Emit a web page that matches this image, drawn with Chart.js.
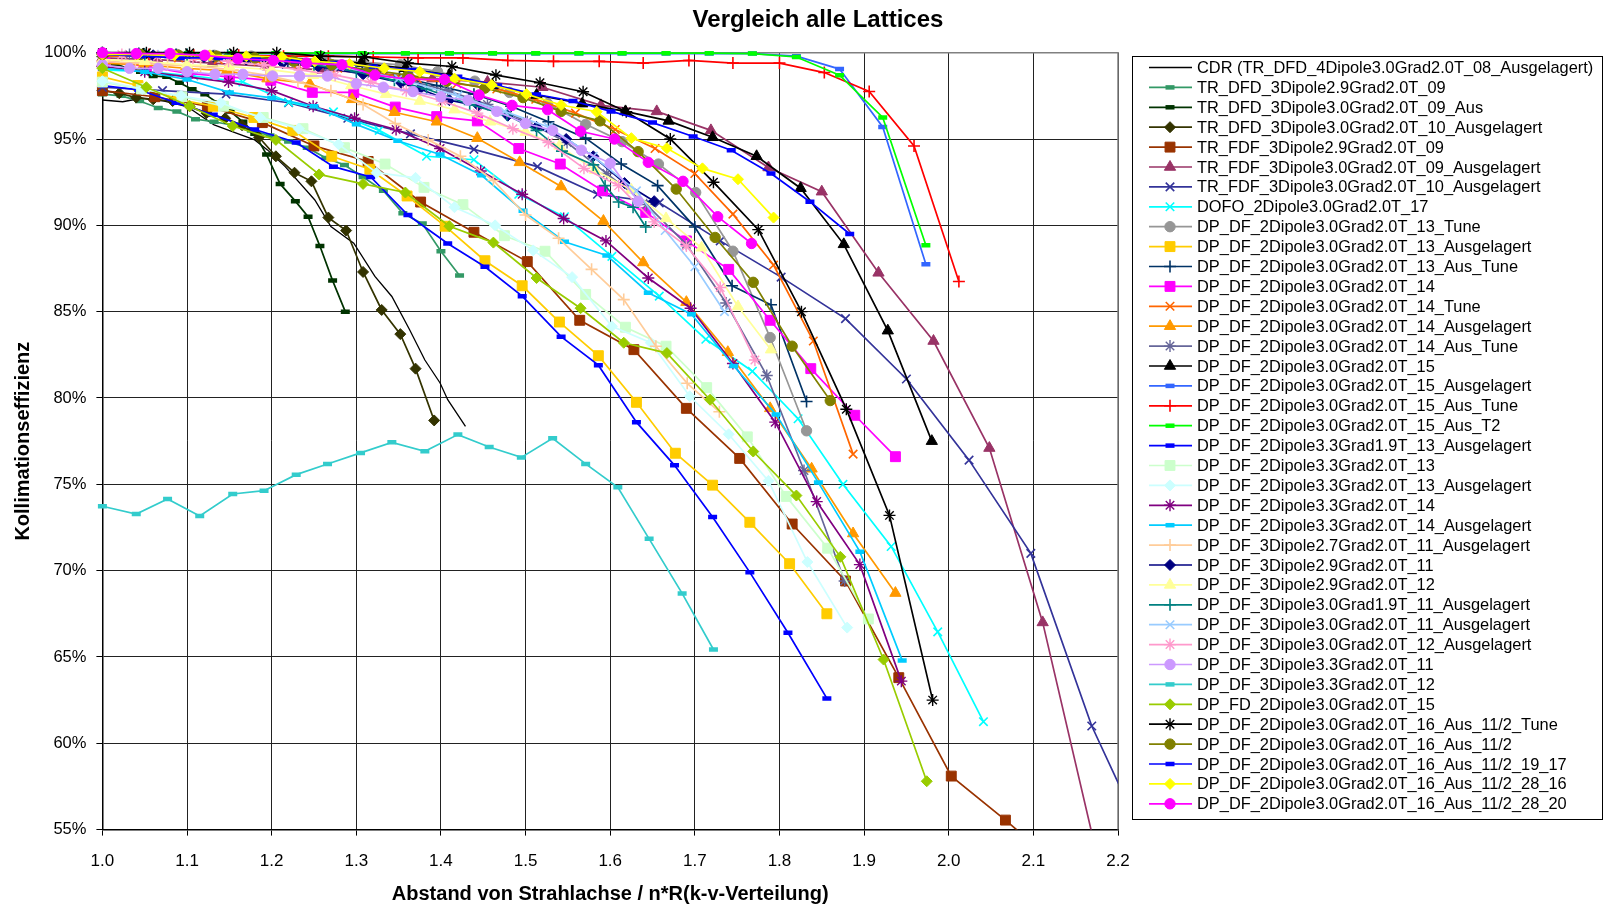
<!DOCTYPE html>
<html>
<head>
<meta charset="utf-8">
<title>Vergleich alle Lattices</title>
<script src="https://cdn.jsdelivr.net/npm/chart.js@4.4.1/dist/chart.umd.min.js"></script>
<style>
  html, body { margin: 0; padding: 0; background: #fff; }
  canvas { display: block; }
</style>
</head>
<body>
<canvas id="latticeChart" width="1606" height="906"></canvas>
<script>
// Kollimationseffizienz [%] ueber Abstand von der Strahlachse (n*R), je Lattice [x, y]
const cdr08 = [[1.0,97.26],[1.024,97.16],[1.046,97.36],[1.073,97.2],[1.1,96.88],[1.132,95.82],[1.159,95.33],[1.18,94.95],[1.195,94.37],[1.216,93.4],[1.251,91.47],[1.27,89.93],[1.297,88.97],[1.322,87.04],[1.342,85.88],[1.363,83.95],[1.381,82.2],[1.399,80.87],[1.408,79.9],[1.429,78.36]];
const trDfd29_09 = [[1.0,97.6],[1.022,97.5],[1.044,97.2],[1.066,96.8],[1.088,96.6],[1.11,96.15],[1.132,96.0],[1.154,95.8],[1.176,95.5],[1.198,95.2],[1.22,94.85],[1.242,94.5],[1.264,93.9],[1.286,93.5],[1.308,92.8],[1.332,92.0],[1.355,90.7],[1.378,90.1],[1.4,88.5],[1.422,87.1]];
const trDfd30_09aus = [[1.0,99.5],[1.015,99.35],[1.03,99.1],[1.045,98.9],[1.06,98.65],[1.076,98.6],[1.091,98.26],[1.106,97.88],[1.121,97.6],[1.136,97.1],[1.151,96.6],[1.166,96.0],[1.18,95.3],[1.194,94.1],[1.21,92.4],[1.228,91.4],[1.243,90.5],[1.257,88.8],[1.272,86.8],[1.287,85.0]];
const trDfd30_10aus = [[1.0,97.8],[1.02,97.65],[1.04,97.4],[1.06,97.3],[1.083,97.2],[1.103,96.9],[1.123,96.5],[1.145,96.2],[1.165,95.8],[1.185,95.1],[1.205,94.0],[1.227,93.05],[1.247,92.55],[1.267,90.45],[1.288,89.7],[1.308,87.3],[1.33,85.1],[1.352,83.7],[1.37,81.7],[1.392,78.7]];
const trFdf29_09 = [[1.0,97.8],[1.062,97.45],[1.124,96.9],[1.189,95.95],[1.25,94.6],[1.314,93.7],[1.376,91.35],[1.439,89.6],[1.502,87.9],[1.564,84.5],[1.628,82.8],[1.69,79.4],[1.753,76.5],[1.815,72.7],[1.878,69.4],[1.941,63.8],[2.003,58.1],[2.067,55.55],[2.13,52.9]];
const trFdf30_09aus = [[1.0,99.7],[1.065,99.6],[1.13,99.4],[1.195,99.2],[1.26,99.0],[1.325,98.8],[1.39,98.5],[1.455,98.3],[1.52,98.0],[1.589,96.95],[1.655,96.6],[1.719,95.5],[1.787,93.35],[1.85,91.95],[1.917,87.25],[1.982,83.3],[2.048,77.1],[2.111,67.0],[2.18,52.5]];
const trFdf30_10aus = [[1.0,98.0],[1.071,97.8],[1.146,97.6],[1.22,97.1],[1.29,96.2],[1.364,95.3],[1.439,94.4],[1.514,93.4],[1.585,91.8],[1.658,91.3],[1.73,89.1],[1.802,87.0],[1.878,84.6],[1.95,81.1],[2.024,76.4],[2.097,71.0],[2.169,61.0],[2.24,53.5]];
const dofo17 = [[1.0,99.0],[1.054,98.9],[1.108,98.65],[1.166,98.3],[1.22,97.13],[1.273,96.57],[1.327,95.5],[1.383,94.0],[1.439,93.8],[1.492,91.8],[1.546,90.5],[1.602,88.2],[1.658,85.9],[1.713,83.4],[1.768,81.55],[1.822,78.8],[1.875,75.0],[1.932,71.4],[1.987,66.45],[2.041,61.25]];
const dd13tune = [[1.0,99.95],[1.044,99.9],[1.088,99.9],[1.132,99.85],[1.176,99.8],[1.22,99.7],[1.264,99.6],[1.308,99.45],[1.352,99.3],[1.396,98.9],[1.44,98.35],[1.481,97.7],[1.526,97.05],[1.571,95.85],[1.614,94.85],[1.657,93.55],[1.701,91.9],[1.745,88.5],[1.789,83.5],[1.832,78.1]];
const dd13aus = [[1.0,98.6],[1.042,98.1],[1.09,97.3],[1.131,96.9],[1.179,96.25],[1.225,95.5],[1.271,94.0],[1.316,93.25],[1.36,91.7],[1.405,89.95],[1.452,87.95],[1.496,86.5],[1.54,84.4],[1.586,82.45],[1.631,79.75],[1.677,76.8],[1.721,74.95],[1.765,72.8],[1.812,70.4],[1.856,67.5]];
const dd13ausTune = [[1.0,100],[1.043,99.95],[1.087,99.9],[1.131,99.8],[1.175,99.7],[1.219,99.5],[1.263,99.3],[1.307,99.0],[1.351,98.6],[1.395,98.1],[1.439,97.6],[1.483,96.9],[1.527,96.0],[1.571,95.05],[1.613,93.55],[1.656,92.3],[1.70,89.9],[1.744,86.5],[1.79,85.4],[1.832,79.8]];
const dd14 = [[1.003,99.5],[1.052,99.2],[1.101,98.8],[1.15,98.6],[1.199,98.4],[1.248,97.7],[1.297,97.7],[1.346,96.85],[1.395,96.3],[1.443,96.05],[1.492,94.45],[1.541,93.55],[1.591,92.0],[1.642,90.75],[1.69,89.1],[1.74,87.45],[1.789,84.5],[1.837,81.7],[1.889,79.0],[1.937,76.6]];
const dd14tune = [[1.0,99.8],[1.043,99.8],[1.09,99.7],[1.137,99.6],[1.184,99.5],[1.231,99.3],[1.278,99.1],[1.325,98.8],[1.372,98.5],[1.419,98.2],[1.466,97.9],[1.512,97.3],[1.559,96.5],[1.606,95.55],[1.653,94.45],[1.7,93.0],[1.745,90.65],[1.793,87.7],[1.84,83.3],[1.887,76.75]];
const dd14aus = [[1.0,99.4],[1.049,99.3],[1.098,99.1],[1.147,98.95],[1.195,98.5],[1.245,98.2],[1.295,97.3],[1.345,96.55],[1.395,96.0],[1.443,95.05],[1.493,93.65],[1.542,92.25],[1.592,90.25],[1.639,87.85],[1.69,85.55],[1.739,82.65],[1.789,79.4],[1.838,75.9],[1.887,72.15],[1.937,68.7]];
const dd14ausTune = [[1.0,99.95],[1.032,99.9],[1.079,99.9],[1.126,99.8],[1.173,99.7],[1.22,99.5],[1.267,99.2],[1.314,98.9],[1.361,98.4],[1.408,97.8],[1.455,97.0],[1.502,96.0],[1.549,94.8],[1.596,93.0],[1.643,91.2],[1.69,88.9],[1.737,85.5],[1.785,81.3],[1.829,75.8],[1.877,69.4]];
const dd15 = [[1.0,99.95],[1.049,99.9],[1.1,99.85],[1.152,99.8],[1.203,99.7],[1.255,99.55],[1.306,99.4],[1.358,99.1],[1.41,98.7],[1.461,98.1],[1.513,97.55],[1.567,97.05],[1.618,96.6],[1.669,96.05],[1.721,95.1],[1.773,94.0],[1.825,92.15],[1.876,88.9],[1.928,83.9],[1.98,77.5]];
const dd15aus = [[1.0,99.95],[1.051,99.95],[1.102,99.95],[1.154,99.95],[1.205,99.95],[1.256,99.95],[1.307,99.95],[1.358,99.95],[1.41,99.95],[1.461,99.95],[1.512,99.95],[1.563,99.95],[1.614,99.95],[1.666,99.95],[1.717,99.95],[1.768,99.95],[1.82,99.8],[1.871,99.05],[1.922,95.7],[1.973,87.75]];
const dd15ausTune = [[1.002,99.9],[1.055,99.9],[1.108,99.85],[1.161,99.85],[1.214,99.8],[1.267,99.8],[1.32,99.75],[1.373,99.7],[1.426,99.7],[1.479,99.55],[1.533,99.5],[1.587,99.5],[1.639,99.4],[1.693,99.55],[1.745,99.4],[1.80,99.4],[1.853,98.85],[1.906,97.75],[1.959,94.6],[2.012,86.75]];
const dd15ausT2 = [[1.0,99.97],[1.051,99.97],[1.102,99.97],[1.154,99.97],[1.205,99.97],[1.256,99.97],[1.307,99.97],[1.358,99.97],[1.41,99.97],[1.461,99.97],[1.512,99.97],[1.563,99.97],[1.614,99.97],[1.666,99.97],[1.717,99.97],[1.768,99.95],[1.82,99.75],[1.871,98.7],[1.922,96.25],[1.973,88.85]];
const dd33g19_13aus = [[1.0,98.1],[1.043,97.85],[1.087,97.1],[1.131,96.4],[1.18,95.55],[1.229,94.8],[1.273,93.4],[1.317,92.8],[1.361,90.6],[1.408,88.95],[1.452,87.6],[1.496,85.9],[1.542,83.55],[1.586,81.9],[1.631,78.6],[1.676,76.1],[1.721,73.1],[1.765,69.9],[1.81,66.4],[1.856,62.6]];
const dd33_13 = [[1.0,98.3],[1.046,97.9],[1.094,97.45],[1.143,96.9],[1.19,96.25],[1.237,95.6],[1.286,94.5],[1.334,93.55],[1.38,92.2],[1.426,91.2],[1.475,89.4],[1.523,88.5],[1.571,86.0],[1.618,84.1],[1.666,83.0],[1.714,80.6],[1.762,77.75],[1.808,74.3],[1.857,71.3],[1.905,67.2]];
const dd33_13aus = [[1.0,98.35],[1.047,97.9],[1.093,97.5],[1.14,97.1],[1.186,96.25],[1.232,95.6],[1.279,94.7],[1.324,93.05],[1.37,92.75],[1.416,91.05],[1.464,90.0],[1.509,88.55],[1.555,87.0],[1.602,84.15],[1.648,83.2],[1.694,80.1],[1.74,77.9],[1.787,75.2],[1.833,70.5],[1.88,66.7]];
const dd33_14 = [[1.0,99.2],[1.05,98.9],[1.1,98.6],[1.149,98.3],[1.2,97.8],[1.249,96.9],[1.298,96.2],[1.347,95.55],[1.399,94.45],[1.447,93.15],[1.496,91.8],[1.545,90.4],[1.595,89.1],[1.645,86.95],[1.695,85.2],[1.745,82.0],[1.795,78.6],[1.844,74.0],[1.895,70.35],[1.944,63.6]];
const dd33_14aus = [[1.0,99.1],[1.05,98.9],[1.1,98.45],[1.15,97.7],[1.2,97.38],[1.25,96.9],[1.3,95.85],[1.349,94.9],[1.399,94.1],[1.448,92.9],[1.497,90.84],[1.546,89.05],[1.596,88.26],[1.645,86.1],[1.696,84.85],[1.746,81.85],[1.796,79.05],[1.846,75.1],[1.895,71.1],[1.945,64.8]];
const d3p27_11aus = [[1.0,99.5],[1.039,99.4],[1.077,99.3],[1.116,99.2],[1.154,99.0],[1.193,98.7],[1.231,98.3],[1.27,97.8],[1.308,97.0],[1.346,95.9],[1.385,94.95],[1.423,94.0],[1.462,92.6],[1.5,90.6],[1.539,89.25],[1.578,87.45],[1.616,85.7],[1.654,83.0],[1.691,80.85],[1.729,79.2]];
const d3p29_11 = [[1.0,99.9],[1.06,99.85],[1.12,99.75],[1.17,99.6],[1.213,99.4],[1.255,99.2],[1.308,98.75],[1.353,98.25],[1.375,97.9],[1.41,97.25],[1.445,96.9],[1.479,96.35],[1.513,95.7],[1.548,95.0],[1.58,94.0],[1.617,92.45],[1.652,91.4]];
const d3p29_12 = [[1.0,99.6],[1.05,99.5],[1.1,99.3],[1.15,99.2],[1.2,99.0],[1.249,98.7],[1.294,98.1],[1.335,97.6],[1.375,97.2],[1.416,96.7],[1.458,96.0],[1.5,95.4],[1.54,94.6],[1.582,93.2],[1.625,92.05],[1.666,90.4],[1.708,88.7],[1.751,85.3],[1.79,82.8]];
const d3p30g19_11aus = [[1.0,99.95],[1.05,99.9],[1.1,99.9],[1.148,99.85],[1.2,99.6],[1.25,99.3],[1.3,98.9],[1.345,98.4],[1.383,97.9],[1.434,97.0],[1.478,96.4],[1.513,95.5],[1.543,94.3],[1.58,93.5],[1.594,92.3],[1.61,91.35],[1.627,91.05],[1.642,89.9]];
const d3p30_11aus = [[1.0,99.95],[1.07,99.9],[1.14,99.8],[1.21,99.6],[1.28,99.2],[1.35,98.5],[1.42,97.5],[1.475,96.6],[1.527,95.7],[1.58,94.0],[1.631,92.0],[1.665,89.7],[1.70,87.6],[1.735,85.0]];
const d3p30_12aus = [[1.0,99.95],[1.023,99.9],[1.065,99.8],[1.107,99.7],[1.149,99.5],[1.191,99.3],[1.233,99.0],[1.275,98.7],[1.317,98.3],[1.359,97.8],[1.401,97.2],[1.443,96.5],[1.485,95.6],[1.527,94.8],[1.569,93.3],[1.61,92.3],[1.652,90.2],[1.69,88.8],[1.73,86.4],[1.771,82.2]];
const d3p33_11 = [[1.0,99.3],[1.032,99.1],[1.066,99.1],[1.1,98.9],[1.133,98.75],[1.166,98.75],[1.201,98.65],[1.233,98.65],[1.266,98.65],[1.3,98.2],[1.332,98.0],[1.367,97.75],[1.4,97.45],[1.432,97.25],[1.466,96.6],[1.5,95.9],[1.532,95.5],[1.566,94.35],[1.6,93.6],[1.633,91.4]];
const d3p33_12 = [[1.0,73.73],[1.04,73.28],[1.077,74.15],[1.115,73.17],[1.154,74.44],[1.191,74.63],[1.229,75.56],[1.266,76.18],[1.305,76.82],[1.342,77.43],[1.381,76.91],[1.42,77.88],[1.457,77.16],[1.495,76.56],[1.532,77.67],[1.571,76.18],[1.609,74.83],[1.646,71.84],[1.685,68.68],[1.722,65.43]];
const fd15 = [[1.0,99.1],[1.052,98.0],[1.103,96.9],[1.154,95.75],[1.205,94.95],[1.256,92.95],[1.308,92.4],[1.358,91.9],[1.41,89.95],[1.462,89.0],[1.513,86.95],[1.565,85.2],[1.616,83.2],[1.667,82.6],[1.718,79.9],[1.769,76.9],[1.82,74.35],[1.872,70.8],[1.923,64.85],[1.974,57.8]];
const dd16tune = [[1.0,100],[1.052,100],[1.103,100],[1.155,100],[1.206,100],[1.258,99.8],[1.31,99.75],[1.361,99.4],[1.413,99.2],[1.465,98.7],[1.517,98.26],[1.568,97.74],[1.619,96.58],[1.671,95.0],[1.722,92.5],[1.775,89.75],[1.826,85.0],[1.879,79.35],[1.93,73.2],[1.981,62.5]];
const dd16 = [[1.0,99.9],[1.045,99.9],[1.09,99.85],[1.135,99.8],[1.18,99.7],[1.226,99.5],[1.271,99.3],[1.316,99.0],[1.361,98.7],[1.407,98.35],[1.452,97.95],[1.497,97.4],[1.542,96.6],[1.588,96.05],[1.633,94.27],[1.678,92.1],[1.724,89.3],[1.769,86.7],[1.815,83.0],[1.86,79.85]];
const dd16_19_17 = [[1.0,99.9],[1.046,99.8],[1.092,99.7],[1.137,99.7],[1.182,99.63],[1.228,99.5],[1.274,99.4],[1.32,99.2],[1.366,99.0],[1.42,98.6],[1.467,98.1],[1.513,97.58],[1.556,97.2],[1.601,96.6],[1.65,95.95],[1.698,95.15],[1.743,94.35],[1.79,93.0],[1.836,91.37],[1.883,89.5]];
const dd16_28_16 = [[1.0,99.9],[1.042,99.9],[1.085,99.85],[1.127,99.85],[1.17,99.8],[1.212,99.75],[1.251,99.5],[1.292,99.35],[1.333,99.1],[1.375,98.9],[1.416,98.5],[1.46,98.13],[1.501,97.6],[1.542,96.97],[1.584,96.58],[1.625,95.05],[1.667,94.47],[1.709,93.3],[1.751,92.67],[1.793,90.45]];
const dd16_28_20 = [[1.0,100],[1.04,99.95],[1.08,99.95],[1.121,99.85],[1.16,99.65],[1.202,99.55],[1.241,99.4],[1.283,99.3],[1.322,98.7],[1.363,98.45],[1.404,98.45],[1.445,97.55],[1.484,96.95],[1.526,96.7],[1.565,95.45],[1.605,95.0],[1.645,93.65],[1.686,92.55],[1.727,90.5],[1.767,88.95]];

const seriesNames = [
  'CDR (TR_DFD_4Dipole3.0Grad2.0T_08_Ausgelagert)',
  'TR_DFD_3Dipole2.9Grad2.0T_09',
  'TR_DFD_3Dipole3.0Grad2.0T_09_Aus',
  'TR_DFD_3Dipole3.0Grad2.0T_10_Ausgelagert',
  'TR_FDF_3Dipole2.9Grad2.0T_09',
  'TR_FDF_3Dipole3.0Grad2.0T_09_Ausgelagert',
  'TR_FDF_3Dipole3.0Grad2.0T_10_Ausgelagert',
  'DOFO_2Dipole3.0Grad2.0T_17',
  'DP_DF_2Dipole3.0Grad2.0T_13_Tune',
  'DP_DF_2Dipole3.0Grad2.0T_13_Ausgelagert',
  'DP_DF_2Dipole3.0Grad2.0T_13_Aus_Tune',
  'DP_DF_2Dipole3.0Grad2.0T_14',
  'DP_DF_2Dipole3.0Grad2.0T_14_Tune',
  'DP_DF_2Dipole3.0Grad2.0T_14_Ausgelagert',
  'DP_DF_2Dipole3.0Grad2.0T_14_Aus_Tune',
  'DP_DF_2Dipole3.0Grad2.0T_15',
  'DP_DF_2Dipole3.0Grad2.0T_15_Ausgelagert',
  'DP_DF_2Dipole3.0Grad2.0T_15_Aus_Tune',
  'DP_DF_2Dipole3.0Grad2.0T_15_Aus_T2',
  'DP_DF_2Dipole3.3Grad1.9T_13_Ausgelagert',
  'DP_DF_2Dipole3.3Grad2.0T_13',
  'DP_DF_2Dipole3.3Grad2.0T_13_Ausgelagert',
  'DP_DF_2Dipole3.3Grad2.0T_14',
  'DP_DF_2Dipole3.3Grad2.0T_14_Ausgelagert',
  'DP_DF_3Dipole2.7Grad2.0T_11_Ausgelagert',
  'DP_DF_3Dipole2.9Grad2.0T_11',
  'DP_DF_3Dipole2.9Grad2.0T_12',
  'DP_DF_3Dipole3.0Grad1.9T_11_Ausgelagert',
  'DP_DF_3Dipole3.0Grad2.0T_11_Ausgelagert',
  'DP_DF_3Dipole3.0Grad2.0T_12_Ausgelagert',
  'DP_DF_3Dipole3.3Grad2.0T_11',
  'DP_DF_3Dipole3.3Grad2.0T_12',
  'DP_FD_2Dipole3.0Grad2.0T_15',
  'DP_DF_2Dipole3.0Grad2.0T_16_Aus_11/2_Tune',
  'DP_DF_2Dipole3.0Grad2.0T_16_Aus_11/2',
  'DP_DF_2Dipole3.0Grad2.0T_16_Aus_11/2_19_17',
  'DP_DF_2Dipole3.0Grad2.0T_16_Aus_11/2_28_16',
  'DP_DF_2Dipole3.0Grad2.0T_16_Aus_11/2_28_20'
];

const seriesData = [
  cdr08, trDfd29_09, trDfd30_09aus, trDfd30_10aus, trFdf29_09, trFdf30_09aus, trFdf30_10aus,
  dofo17, dd13tune, dd13aus, dd13ausTune, dd14, dd14tune, dd14aus, dd14ausTune,
  dd15, dd15aus, dd15ausTune, dd15ausT2, dd33g19_13aus, dd33_13, dd33_13aus, dd33_14, dd33_14aus,
  d3p27_11aus, d3p29_11, d3p29_12, d3p30g19_11aus, d3p30_11aus, d3p30_12aus, d3p33_11, d3p33_12,
  fd15, dd16tune, dd16, dd16_19_17, dd16_28_16, dd16_28_20
];

const xTicks = [1.0, 2.2, 0.1];   // min, max, step
const yTicks = [55, 100, 5];

// line colour and marker per series (Excel-like)
const seriesStyle = [
  ['#000000', 'none'], ['#339966', 'dash'], ['#003300', 'dash'], ['#333300', 'diamond'],
  ['#993300', 'square'], ['#993366', 'triangle'], ['#333399', 'x'], ['#00FFFF', 'x'],
  ['#969696', 'circle'], ['#FFCC00', 'square'], ['#003366', 'plus'], ['#FF00FF', 'square'],
  ['#FF6600', 'x'], ['#FF9900', 'triangle'], ['#666699', 'star'], ['#000000', 'triangle'],
  ['#3366FF', 'dash'], ['#FF0000', 'plus'], ['#00FF00', 'dash'], ['#0000FF', 'dash'],
  ['#CCFFCC', 'square'], ['#CCFFFF', 'diamond'], ['#800080', 'star'], ['#00CCFF', 'dash'],
  ['#FFCC99', 'plus'], ['#000080', 'diamond'], ['#FFFF99', 'triangle'], ['#008080', 'plus'],
  ['#99CCFF', 'x'], ['#FF99CC', 'star'], ['#CC99FF', 'circle'], ['#33CCCC', 'dash'],
  ['#99CC00', 'diamond'], ['#000000', 'star'], ['#808000', 'circle'], ['#0000FF', 'dash'],
  ['#FFFF00', 'diamond'], ['#FF00FF', 'circle']
];

const markers = {
  none:     { pointStyle: 'circle',   radius: 0,   borderWidth: 0 },
  dash:     { pointStyle: 'line',     radius: 4.5, borderWidth: 4.5 },
  diamond:  { pointStyle: 'rectRot',  radius: 5.5, borderWidth: 1 },
  square:   { pointStyle: 'rect',     radius: 7,   borderWidth: 1 },
  triangle: { pointStyle: 'triangle', radius: 6.5, borderWidth: 1 },
  x:        { pointStyle: 'crossRot', radius: 6,   borderWidth: 1.6 },
  plus:     { pointStyle: 'cross',    radius: 6,   borderWidth: 1.6 },
  circle:   { pointStyle: 'circle',   radius: 5.2, borderWidth: 1 },
  star:     { pointStyle: 'star',     radius: 6,   borderWidth: 1.4 }
};

const FONT = '"Liberation Sans", Arial, Helvetica, sans-serif';

const datasets = seriesData.map((data, i) => {
  const [color, markerName] = seriesStyle[i];
  const m = markers[markerName];
  return {
    label: seriesNames[i],
    data: data,
    showLine: true,
    borderColor: color,
    backgroundColor: color,
    borderWidth: i === 0 ? 1.3 : 1.7,
    pointStyle: m.pointStyle,
    pointRadius: m.radius,
    pointHoverRadius: m.radius,
    pointBorderWidth: m.borderWidth,
    pointBackgroundColor: color,
    pointBorderColor: color,
    order: seriesData.length - i,   // later series on top
    clip: { left: 8, top: 8, right: 0, bottom: 0 }
  };
});

// grey frame round the plot area
const plotFrame = {
  id: 'plotFrame',
  beforeDatasetsDraw(chart) {
    const { ctx, chartArea: a } = chart;
    ctx.save();
    ctx.strokeStyle = '#808080';
    ctx.lineWidth = 1.5;
    ctx.beginPath();
    ctx.moveTo(a.left, a.top);
    ctx.lineTo(a.right, a.top);
    ctx.lineTo(a.right, a.bottom);
    ctx.stroke();
    ctx.restore();
  }
};

// chart title and boxed legend with line + marker samples
const titleAndLegend = {
  id: 'titleAndLegend',
  afterDraw(chart) {
    const ctx = chart.ctx;
    ctx.save();
    ctx.fillStyle = '#000';
    ctx.font = 'bold 24px ' + FONT;
    ctx.textAlign = 'center';
    ctx.textBaseline = 'middle';
    ctx.fillText('Vergleich alle Lattices', 818, 20);

    ctx.fillStyle = '#fff';
    ctx.fillRect(1132, 56, 471, 764);
    ctx.strokeStyle = '#000';
    ctx.lineWidth = 1;
    ctx.strokeRect(1132.5, 56.5, 470, 763);

    ctx.font = '16.4px ' + FONT;
    ctx.textAlign = 'left';
    chart.data.datasets.forEach((ds, i) => {
      const y = 67.5 + i * 19.9;
      ctx.strokeStyle = ds.borderColor;
      ctx.lineWidth = ds.borderWidth;
      ctx.beginPath();
      ctx.moveTo(1149, y);
      ctx.lineTo(1192, y);
      ctx.stroke();
      if (ds.pointRadius > 0) {
        ctx.fillStyle = ds.pointBackgroundColor;
        ctx.strokeStyle = ds.pointBorderColor;
        ctx.lineWidth = ds.pointBorderWidth;
        Chart.helpers.drawPoint(ctx, {
          pointStyle: ds.pointStyle, radius: ds.pointRadius,
          borderWidth: ds.pointBorderWidth, rotation: 0
        }, 1170, y);
      }
      ctx.fillStyle = '#000';
      ctx.fillText(ds.label, 1197, y + 1);
    });
    ctx.restore();
  }
};

new Chart(document.getElementById('latticeChart'), {
  type: 'scatter',
  data: { datasets: datasets },
  plugins: [plotFrame, titleAndLegend],
  options: {
    responsive: false,
    animation: false,
    devicePixelRatio: 1,
    layout: { padding: { top: 52.7, right: 488, bottom: 0, left: 0 } },
    plugins: {
      legend: { display: false },
      title: { display: false },
      tooltip: { enabled: false }
    },
    scales: {
      x: {
        type: 'linear',
        min: xTicks[0],
        max: xTicks[1],
        afterFit(scale) { scale.height = 76.4; },
        ticks: {
          stepSize: xTicks[2],
          color: '#000',
          font: { family: FONT, size: 17 },
          padding: 16,
          maxRotation: 0,
          autoSkip: false,
          callback: v => Number(v).toFixed(1)
        },
        grid: { color: '#222', lineWidth: 1, tickLength: 6, tickColor: '#000' },
        border: { color: '#000', width: 1.5 },
        title: {
          display: true,
          text: 'Abstand von Strahlachse / n*R(k-v-Verteilung)',
          color: '#000',
          font: { family: FONT, size: 20, weight: 'bold' },
          padding: { top: 0, bottom: 0 }
        }
      },
      y: {
        type: 'linear',
        min: yTicks[0],
        max: yTicks[1],
        afterFit(scale) { scale.width = 102.4; },
        ticks: {
          stepSize: yTicks[2],
          color: '#000',
          font: { family: FONT, size: 16.5 },
          padding: 10,
          callback: v => v + '%'
        },
        grid: { color: '#222', lineWidth: 1, tickLength: 6, tickColor: '#000' },
        border: { color: '#000', width: 1.5 },
        title: {
          display: true,
          text: 'Kollimationseffizienz',
          color: '#000',
          font: { family: FONT, size: 20, weight: 'bold' },
          padding: { top: 11.5, bottom: 0 }
        }
      }
    }
  }
});
</script>
</body>
</html>
